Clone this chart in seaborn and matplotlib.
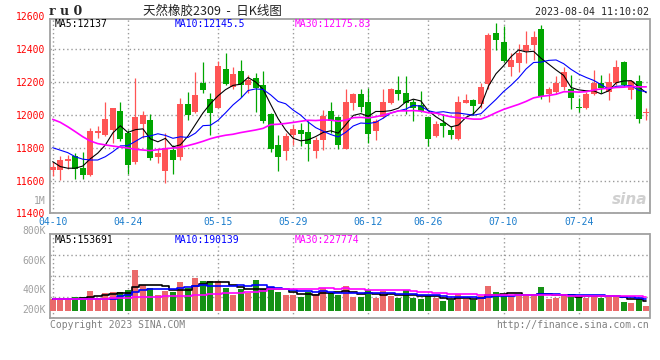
import numpy as np
import pandas as pd
import matplotlib
matplotlib.use("Agg")
import matplotlib.pyplot as plt
import matplotlib.transforms as mtransforms
import seaborn as sns

# %% Data: ru0 daily candles, 04-10 .. 08-04 (index 0 = 04-10)
date_ticks = [0, 10, 22, 32, 42, 50, 60, 70]
date_labels = ["04-10", "04-24", "05-15", "05-29", "06-12", "06-26", "07-10", "07-24"]

open_ = [11665, 11665, 11720, 11750, 11675, 11635, 11890, 11880, 11910, 12025,
         11890, 11710, 11945, 11970, 11745, 11655, 11785, 11745, 12065, 12015,
         12195, 12100, 12045, 12280, 12170, 12270, 12185, 12225, 12185, 12005,
         11815, 11780, 11875, 11910, 11895, 11780, 11845, 12025, 11985, 11795,
         12075, 12130, 12080, 11900, 11990, 12075, 12150, 12135, 12080, 12060,
         11985, 11870, 11950, 11910, 11855, 12075, 12090, 12065, 12190, 12500,
         12445, 12295, 12315, 12390, 12425, 12525, 12130, 12140, 12170, 12160,
         12050, 12045, 12125, 12195, 12140, 12195, 12325, 12150, 12205, 12010]
high = [11715, 11750, 11755, 11765, 11775, 11920, 11930, 12080, 12045, 12080,
        11910, 12225, 12025, 12005, 11800, 11890, 11815, 12105, 12140, 12260,
        12325, 12135, 12330, 12375, 12295, 12335, 12245, 12255, 12270, 12010,
        11880, 11890, 11940, 11950, 11960, 11865, 12030, 12080, 11995, 12155,
        12135, 12160, 12165, 11975, 12160, 12165, 12240, 12235, 12095, 12145,
        11985, 11965, 12005, 11930, 12115, 12130, 12095, 12195, 12500, 12560,
        12540, 12375, 12435, 12510, 12510, 12550, 12170, 12235, 12290, 12245,
        12105, 12140, 12275, 12245, 12255, 12335, 12330, 12215, 12245, 12040]
low = [11625, 11605, 11670, 11610, 11610, 11630, 11860, 11870, 11830, 11840,
       11640, 11700, 11860, 11725, 11705, 11585, 11640, 11725, 11970, 12010,
       12135, 11875, 12040, 12180, 12160, 12110, 12135, 12020, 11950, 11775,
       11660, 11725, 11815, 11810, 11720, 11740, 11785, 11890, 11795, 11795,
       12030, 12015, 11830, 11845, 11980, 12065, 12090, 12005, 11965, 12020,
       11810, 11865, 11865, 11855, 11850, 12070, 12000, 12040, 12160, 12395,
       12325, 12235, 12260, 12315, 12335, 12100, 12080, 12130, 12150, 12035,
       12015, 12035, 12120, 12135, 12090, 12180, 12175, 12095, 11950, 11970]
close = [11680, 11725, 11730, 11670, 11635, 11900, 11900, 11975, 12040, 11855,
         11695, 11985, 12000, 11735, 11765, 11800, 11725, 12065, 12000, 12120,
         12150, 12010, 12300, 12190, 12250, 12185, 12215, 12165, 11965, 11795,
         11745, 11870, 11915, 11885, 11825, 11845, 11995, 11965, 11815, 12080,
         12130, 12050, 11885, 11960, 12080, 12155, 12125, 12075, 12045, 12025,
         11855, 11945, 11930, 11880, 12080, 12090, 12055, 12170, 12485, 12455,
         12330, 12335, 12375, 12425, 12475, 12115, 12160, 12195, 12260, 12105,
         12045, 12130, 12195, 12165, 12200, 12290, 12185, 12205, 11975, 12020]
volume = [187000, 187000, 187000, 219000, 219000, 320000, 203000, 283000, 304000, 304000,
          336000, 656000, 416000, 363000, 256000, 309000, 293000, 459000, 363000, 523000,
          480000, 480000, 480000, 363000, 251000, 347000, 283000, 491000, 347000, 347000,
          304000, 251000, 251000, 219000, 299000, 272000, 363000, 283000, 256000, 395000,
          219000, 219000, 331000, 208000, 309000, 229000, 208000, 331000, 208000, 187000,
          229000, 203000, 160000, 171000, 267000, 187000, 176000, 229000, 395000, 304000,
          229000, 240000, 240000, 240000, 267000, 379000, 187000, 208000, 240000, 267000,
          229000, 208000, 240000, 208000, 251000, 251000, 139000, 123000, 187000, 75000]

# moving averages at the left edge depend on earlier sessions
ma5_head = [11715, 11685, 11675, 11675]
ma10_head = [11800, 11785, 11770, 11745, 11730, 11725, 11725, 11745, 11775]
ma30_head = [11973, 11955, 11928, 11898, 11867, 11841, 11825, 11817, 11810, 11804,
             11798, 11790, 11786, 11782, 11788, 11794, 11798, 11802, 11813, 11825,
             11839, 11855, 11867, 11876, 11882, 11892, 11900, 11908, 11918]
vma5_head = [187000, 187000, 187000, 190000]
vma10_head = [187000, 187000, 187000, 187000, 187000, 188000, 188000, 190000, 195000]
vma30_head = [187000, 187000, 187000, 187000, 188000, 190000, 192000, 195000, 200000, 203000,
              206000, 212000, 220000, 224000, 226000, 228000, 230000, 236000, 240000, 250000,
              256000, 262000, 268000, 276000, 282000, 288000, 296000, 304000, 312000]

header_price = ["MA5:12137", "MA10:12145.5", "MA30:12175.83"]
header_vol = ["MA5:153691", "MA10:190139", "MA30:227774"]


def moving(values, window, head):
    s = pd.Series(values, dtype=float).rolling(window).mean()
    s.iloc[:len(head)] = head
    return s


df = pd.DataFrame({"open": open_, "high": high, "low": low,
                   "close": close, "volume": volume})
df["i"] = np.arange(len(df))
df["up"] = df["close"] >= df["open"]
df["ma5"] = moving(close, 5, ma5_head)
df["ma10"] = moving(close, 10, ma10_head)
df["ma30"] = moving(close, 30, ma30_head)
df["vma5"] = moving(volume, 5, vma5_head)
df["vma10"] = moving(volume, 10, vma10_head)
df["vma30"] = moving(volume, 30, vma30_head)

# %% Style
RED = "#FF5555"
GREEN = "#00A600"
GRID = "#9a9a9a"
BORDER = "#a0a0a0"
TICKBLUE = "#1a7ccc"
MONO = "DejaVu Sans Mono"

sns.set_style("white")
plt.rcParams["font.family"] = [MONO, "Noto Sans CJK SC"]

W, H = 660, 360
fig = plt.figure(figsize=(W / 100, H / 100), dpi=100)


def px(x, y):
    return x / W, 1 - y / H


ax1 = fig.add_axes([50 / W, 1 - 213.3 / H, 599.5 / W, 194 / H])
ax2 = fig.add_axes([50 / W, 1 - 317.7 / H, 599.5 / W, 83.7 / H])

colors = np.where(df["up"], RED, GREEN)

# %% Candles
body_lo = df[["open", "close"]].min(axis=1)
body_h = (df["close"] - df["open"]).abs().clip(lower=5)
ax1.vlines(df["i"], df["low"], df["high"], colors=colors, lw=0.9, zorder=3)
ax1.bar(df["i"], body_h, bottom=body_lo, width=0.8, color=colors, linewidth=0, zorder=4)

for col, c, lw in [("ma5", "black", 0.8), ("ma10", "#0000FF", 0.8), ("ma30", "#FF00FF", 1.2)]:
    sns.lineplot(x="i", y=col, data=df, ax=ax1, color=c, lw=lw, zorder=5)

ax1.set_ylim(11400, 12583)
ax1.set_yticks([11400, 11600, 11800, 12000, 12200, 12400])
ax1.set_xticks(date_ticks, date_labels)
ax1.tick_params(axis="y", colors="red", length=0, pad=3.5, labelsize=7)
ax1.tick_params(axis="x", colors=TICKBLUE, length=0, pad=2.5, labelsize=7)
ax1.text(-0.008, 12600, "12600", color="red", fontsize=7, ha="right", va="center",
         transform=mtransforms.blended_transform_factory(ax1.transAxes, ax1.transData),
         clip_on=False)
ax1.text(0.997, 0.03, "sina", transform=ax1.transAxes, ha="right", va="bottom",
         fontsize=11, fontstyle="italic", fontweight="bold", color="#d0d0d0",
         family="DejaVu Sans", zorder=1)

# %% Volume
sns.barplot(x="i", y="volume", hue="up", data=df, ax=ax2, native_scale=True,
            palette={True: RED, False: GREEN}, width=0.8, dodge=False,
            errorbar=None, legend=False, linewidth=0, zorder=3)
for col, c in [("vma5", "black"), ("vma10", "#0000FF"), ("vma30", "#FF00FF")]:
    sns.lineplot(x="i", y=col, data=df, ax=ax2, color=c, lw=1.2,
                 drawstyle="steps-mid", zorder=5)

vmin, vmax = -112000, 1227000
ax2.set_ylim(vmin, vmax)
ax2.set_yticks([vmin + f * (vmax - vmin) for f in (0.25, 0.5, 0.75)], ["", "", ""])
ax2.set_xticks(date_ticks, [""] * len(date_ticks))
ax2.tick_params(length=0)

for ax in (ax1, ax2):
    ax.set_xlim(-0.36, 79.43)
    ax.set_xlabel("")
    ax.set_ylabel("")
    ax.set_axisbelow(True)
    ax.grid(True, which="major", color=GRID, lw=1.0, linestyle=(0, (1, 2)))
    for s in ax.spines.values():
        s.set_color(BORDER)
        s.set_linewidth(1.3)

# %% Texts
fig.text(*px(49, 11.5), "r u 0", fontsize=9, fontweight="bold", va="center",
         family="DejaVu Serif")
fig.text(*px(212, 11), "天然橡胶2309  -  日K线图", fontsize=9, va="center", ha="center",
         family=["Noto Sans CJK SC", "DejaVu Sans"], color="#222222")
fig.text(*px(649, 12.3), "2023-08-04 11:10:02", fontsize=7.2, va="center", ha="right")

for (x0, c), t in zip([(55, "black"), (175, "#0000FF"), (295, "#FF00FF")], header_price):
    fig.text(*px(x0, 24), t, color=c, fontsize=7, va="center")
for (x0, c), t in zip([(55, "black"), (175, "#0000FF"), (295, "#FF00FF")], header_vol):
    fig.text(*px(x0, 239.7), t, color=c, fontsize=7, va="center")

for t, y in [("1M", 200.7), ("800K", 231), ("600K", 261), ("400K", 290), ("200K", 310)]:
    fig.text(*px(46, y), t, color="#a0a0a0", fontsize=7, va="center", ha="right")

fig.text(*px(50, 324.5), "Copyright 2023 SINA.COM", color="#808080", fontsize=7, va="center")
fig.text(*px(649, 324.5), "http://finance.sina.com.cn", color="#808080", fontsize=7,
         va="center", ha="right")

fig.savefig("out.png", dpi=100)
